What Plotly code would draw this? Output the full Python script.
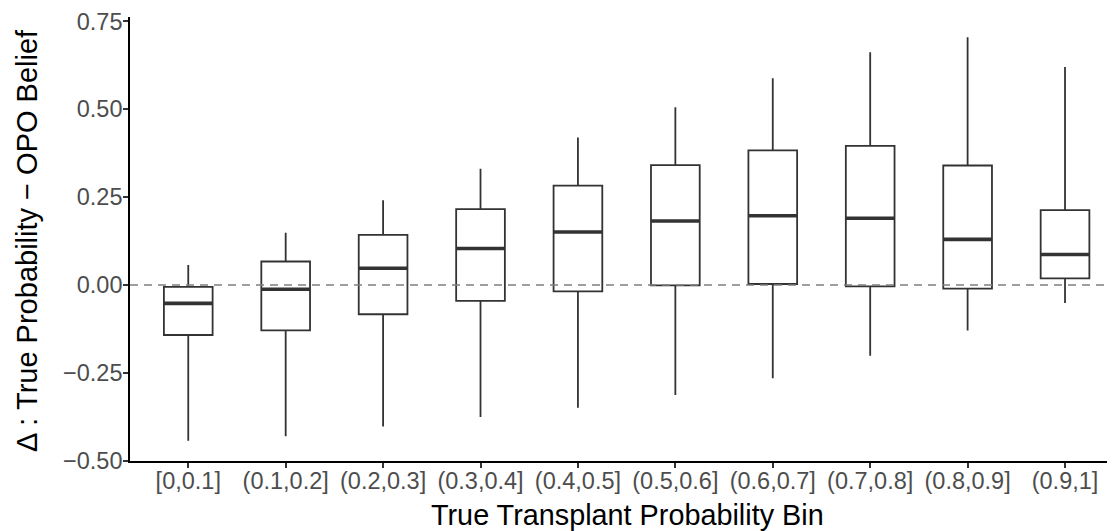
import plotly.graph_objects as go

categories = ["[0,0.1]", "(0.1,0.2]", "(0.2,0.3]", "(0.3,0.4]", "(0.4,0.5]",
              "(0.5,0.6]", "(0.6,0.7]", "(0.7,0.8]", "(0.8,0.9]", "(0.9,1]"]
lower_whisker = [-0.443, -0.430, -0.402, -0.375, -0.349, -0.313, -0.265, -0.201, -0.129, -0.051]
q1 = [-0.142, -0.129, -0.083, -0.045, -0.018, -0.001, 0.003, -0.004, -0.010, 0.019]
median = [-0.052, -0.012, 0.048, 0.104, 0.151, 0.182, 0.197, 0.190, 0.130, 0.087]
q3 = [-0.005, 0.067, 0.143, 0.216, 0.283, 0.341, 0.383, 0.396, 0.340, 0.213]
upper_whisker = [0.057, 0.149, 0.241, 0.331, 0.420, 0.506, 0.588, 0.662, 0.705, 0.620]

y_tickvals = [-0.50, -0.25, 0.00, 0.25, 0.50, 0.75]
y_ticktext = ["\u22120.50", "\u22120.25", "0.00", "0.25", "0.50", "0.75"]

x_title = "True Transplant Probability Bin"
y_title = "\u0394 : True Probability \u2212 OPO Belief"

positions = list(range(len(categories)))
box_width = 0.5
dark = "#333333"
font_family = "Liberation Sans, Arial, sans-serif"

fig = go.Figure()
fig.add_trace(go.Box(
    x=positions,
    q1=q1, median=median, q3=q3,
    lowerfence=lower_whisker, upperfence=upper_whisker,
    width=box_width,
    whiskerwidth=0,
    fillcolor="white",
    line=dict(color=dark, width=1.8),
    boxpoints=False,
    showlegend=False,
    hoverinfo="skip",
))

# thicker median bars (ggplot style)
mx, my = [], []
for p, m in zip(positions, median):
    mx += [p - box_width / 2, p + box_width / 2, None]
    my += [m, m, None]
fig.add_trace(go.Scatter(x=mx, y=my, mode="lines",
                         line=dict(color=dark, width=3.6),
                         showlegend=False, hoverinfo="skip"))

fig.add_shape(type="line", xref="paper", yref="y", x0=0, x1=1, y0=0, y1=0,
              line=dict(color="#7f7f7f", width=1.6, dash="8px,6px"), layer="above")

# the page body adds an 8px margin, so the figure is sized/offset to compensate
fig.update_layout(
    width=1107, height=523,
    margin=dict(l=122, r=0, t=9, b=70),
    paper_bgcolor="white", plot_bgcolor="white",
    font=dict(family=font_family),
    xaxis=dict(
        range=[-0.598, 9.513],
        tickmode="array", tickvals=positions, ticktext=categories,
        showgrid=False, zeroline=False,
        showline=True, linecolor="black", linewidth=1.6,
        ticks="outside", ticklen=5, tickwidth=1.5, tickcolor=dark,
        ticklabelstandoff=-7,
        tickfont=dict(size=23.5, color="#4D4D4D", family=font_family),
    ),
    yaxis=dict(
        range=[-0.5004, 0.7624],
        tickmode="array", tickvals=y_tickvals, ticktext=y_ticktext,
        showgrid=False, zeroline=False,
        showline=True, linecolor="black", linewidth=1.6,
        ticks="outside", ticklen=5, tickwidth=1.5, tickcolor=dark,
        ticklabelstandoff=-4,
        tickfont=dict(size=23.5, color="#4D4D4D", family=font_family),
    ),
    annotations=[
        dict(text=x_title, xref="paper", yref="paper", x=0.5046, y=-0.1205,
             xanchor="center", yanchor="middle", showarrow=False,
             font=dict(size=28.8, color="black", family=font_family)),
        dict(text=y_title, xref="paper", yref="paper", x=-0.1045, y=0.4958,
             xanchor="center", yanchor="middle", showarrow=False, textangle=-90,
             font=dict(size=29, color="black", family=font_family)),
    ],
)

fig.write_html("out.html")
